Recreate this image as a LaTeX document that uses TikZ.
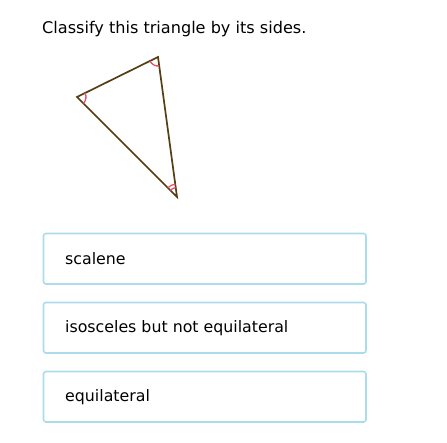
\documentclass[tikz,border=0pt]{standalone}
\usepackage{fontspec}
\setmainfont{DejaVu Sans}
\usetikzlibrary{angles}
\definecolor{tri}{RGB}{85,62,20}
\definecolor{mark}{RGB}{232,80,105}
\definecolor{boxline}{RGB}{170,220,236}
\begin{document}
\begin{tikzpicture}[x=1pt,y=-1pt,
  choice/.style={draw=boxline, line width=1.6pt, rounded corners=2.5pt},
  choicetext/.style={anchor=west, font=\fontsize{15.8}{18}\selectfont, inner sep=0pt},
  amark/.style={draw=mark, line width=1.3pt}]
\useasboundingbox (0,0) rectangle (447,443);
\node[anchor=base west, inner sep=0pt, font=\fontsize{16.1}{18}\selectfont] (q) at (42,34) {Classify this triangle by its sides.};
\coordinate (T) at (158,57);
\coordinate (A) at (77,97);
\coordinate (B) at (177,197);
\draw[tri, line width=1.7pt, line join=miter] (T) -- (A) -- (B) -- cycle;
\pic[amark, angle radius=9pt] {angle = B--A--T};
\pic[amark, angle radius=9pt] {angle = A--T--B};
\pic[amark, angle radius=9.5pt] {angle = T--B--A};
\pic[amark, angle radius=13pt] {angle = T--B--A};
\draw[choice] (43.5,233.5) rectangle (366,284);
\draw[choice] (43.5,302.5) rectangle (366,353);
\draw[choice] (43.5,371.5) rectangle (366,422);
\node[choicetext] (t1) at (65,259) {scalene};
\node[choicetext] (t2) at (65,328) {isosceles but not equilateral};
\node[choicetext] (t3) at (65,397) {equilateral};
\end{tikzpicture}
\end{document}
